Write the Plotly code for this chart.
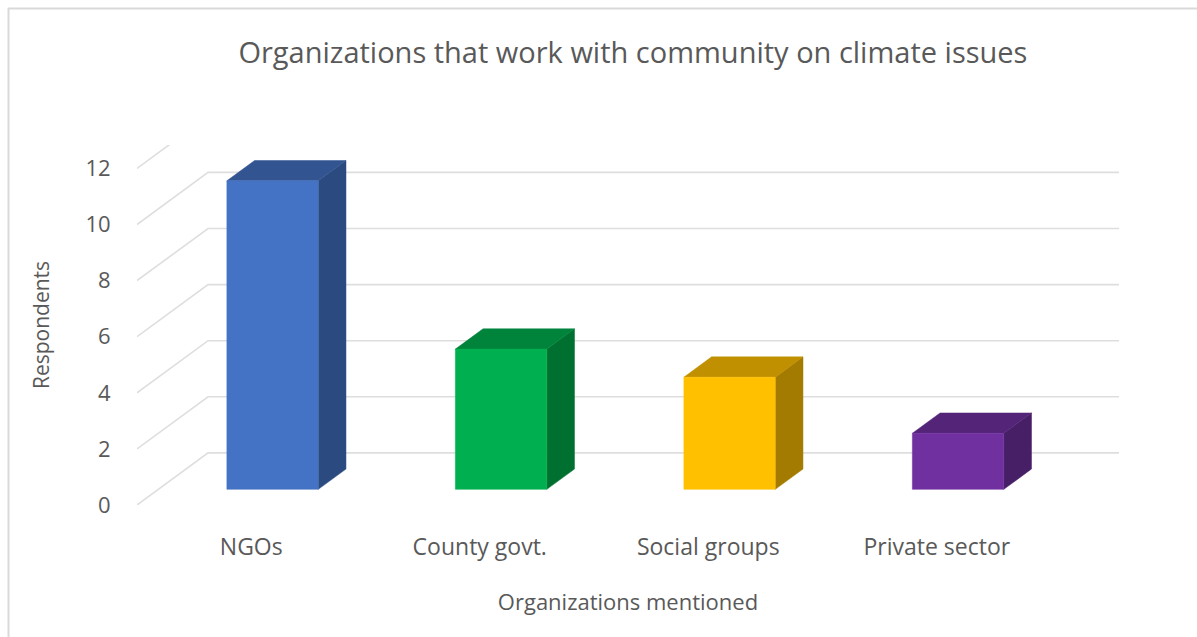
import plotly.graph_objects as go

# Survey counts
categories = ["NGOs", "County govt.", "Social groups", "Private sector"]
respondents = [11, 5, 4, 2]
y_ticks = [0, 2, 4, 6, 8, 10, 12]

# Shades for each column: front, top, side
front_colors = ["#4472C4", "#00B050", "#FFC000", "#7030A0"]
top_colors = ["#325592", "#00843C", "#C09000", "#542478"]
side_colors = ["#2A4A80", "#007030", "#A37B00", "#471F66"]

TEXT = "#595959"
GRID = "#DEDEDE"
FONT = "Open Sans"

# Oblique projection: depth 0..1 shifts a point right and up in data units
DEPTH_X = 0.311
DEPTH_Y = 1.857
BAR_WIDTH = 0.4
BAR_D0, BAR_D1 = 0.3, 0.69


def project(x, v, d):
    return x + DEPTH_X * d, v + DEPTH_Y * d


def face(points, color):
    xs, ys = zip(*[project(*p) for p in points + points[:1]])
    return go.Scatter(x=xs, y=ys, mode="lines", fill="toself", fillcolor=color,
                      line=dict(color=color, width=0.5), hoverinfo="skip",
                      showlegend=False, cliponaxis=False)


fig = go.Figure()

# Wall and floor gridlines of the oblique box
n = len(categories)
gx, gy = [], []
for v in y_ticks:
    for x, d in [(0, 0), (0, 1), (n, 1)]:
        px, py = project(x, v, d)
        gx.append(px)
        gy.append(py)
    gx.append(None)
    gy.append(None)
fig.add_trace(go.Scatter(x=gx, y=gy, mode="lines", line=dict(color=GRID, width=1.6),
                         hoverinfo="skip", showlegend=False, cliponaxis=False))

# Columns, each built from three faces
for i, value in enumerate(respondents):
    x0 = i + 0.5 - BAR_WIDTH / 2
    x1 = i + 0.5 + BAR_WIDTH / 2
    fig.add_trace(face([(x1, 0, BAR_D0), (x1, 0, BAR_D1), (x1, value, BAR_D1), (x1, value, BAR_D0)],
                       side_colors[i]))
    fig.add_trace(face([(x0, value, BAR_D0), (x1, value, BAR_D0), (x1, value, BAR_D1), (x0, value, BAR_D1)],
                       top_colors[i]))
    fig.add_trace(face([(x0, 0, BAR_D0), (x1, 0, BAR_D0), (x1, value, BAR_D0), (x0, value, BAR_D0)],
                       front_colors[i]))

LEFT, RIGHT, TOP, BOTTOM = 137, 1119, 145, 505
X_PER_CAT = 228.5
Y_PER_UNIT = 28.05

fig.update_layout(
    width=1197, height=637,
    margin=dict(l=LEFT, r=1197 - RIGHT, t=TOP, b=637 - BOTTOM, pad=0),
    paper_bgcolor="white", plot_bgcolor="white",
    font=dict(family=FONT, color=TEXT),
    title=dict(text="Organizations that work with community on climate issues",
               font=dict(family=FONT, size=29, color=TEXT),
               x=604.5 / 1197, xanchor="center", xref="paper",
               y=1 - 53 / 637, yanchor="middle", yref="container"),
    xaxis=dict(range=[0, (RIGHT - LEFT) / X_PER_CAT],
               tickmode="array", tickvals=[i + 0.5 for i in range(n)], ticktext=categories,
               tickfont=dict(size=23, color=TEXT), ticks="outside", ticklen=21,
               tickcolor="rgba(0,0,0,0)", showgrid=False, zeroline=False, showline=False,
               title=dict(text="Organizations mentioned", font=dict(size=22, color=TEXT), standoff=34)),
    yaxis=dict(range=[0, (BOTTOM - TOP) / Y_PER_UNIT],
               tickmode="array", tickvals=y_ticks, ticktext=[str(t) for t in y_ticks],
               tickfont=dict(size=22, color=TEXT), ticks="outside", ticklen=21,
               tickcolor="rgba(0,0,0,0)", showgrid=False, zeroline=False, showline=False,
               title=dict(text="Respondents", font=dict(size=21, color=TEXT), standoff=30)),
    shapes=[
        dict(type="line", xref="paper", yref="paper", layer="below",
             x0=(8.5 - LEFT) / (RIGHT - LEFT), x1=(8.5 - LEFT) / (RIGHT - LEFT),
             y0=(BOTTOM - 8) / (BOTTOM - TOP), y1=(BOTTOM - 637) / (BOTTOM - TOP),
             line=dict(color="#D9D9D9", width=2)),
        dict(type="line", xref="paper", yref="paper", layer="below",
             x0=(8 - LEFT) / (RIGHT - LEFT), x1=(1197 - LEFT) / (RIGHT - LEFT),
             y0=(BOTTOM - 8.5) / (BOTTOM - TOP), y1=(BOTTOM - 8.5) / (BOTTOM - TOP),
             line=dict(color="#D9D9D9", width=2)),
    ],
)

fig.write_html("out.html")
